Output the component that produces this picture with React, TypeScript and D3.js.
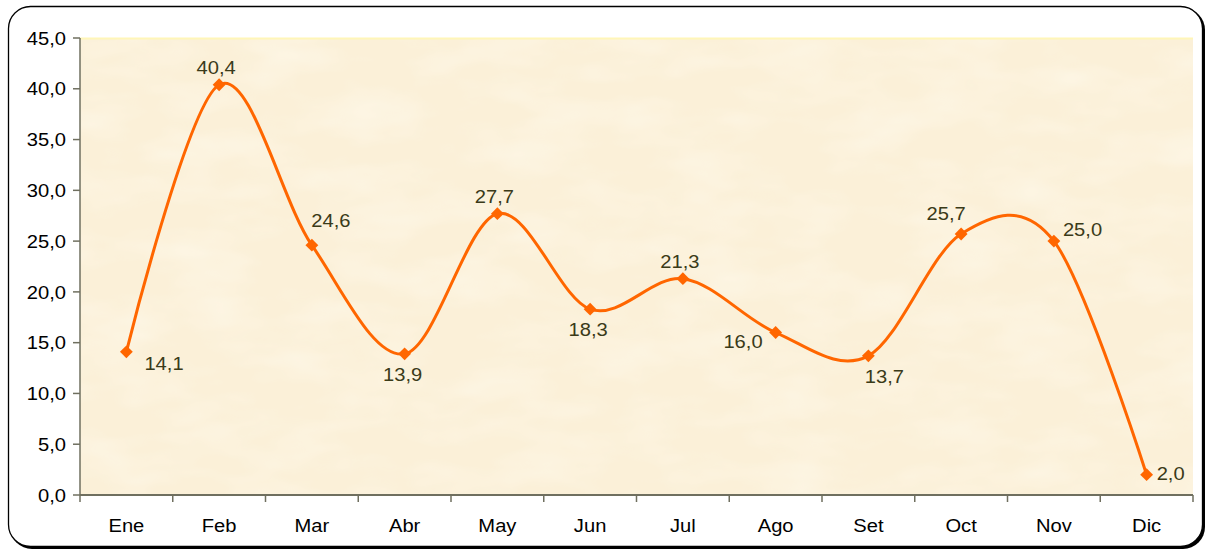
import { useEffect, useRef } from 'react';
import * as d3 from 'd3';

const months = ['Ene', 'Feb', 'Mar', 'Abr', 'May', 'Jun', 'Jul', 'Ago', 'Set', 'Oct', 'Nov', 'Dic'];
const values = [14.1, 40.4, 24.6, 13.9, 27.7, 18.3, 21.3, 16.0, 13.7, 25.7, 25.0, 2.0];
// where Excel put each data label relative to its marker
const labelSide = ['rightBelow', 'above', 'aboveRight', 'below', 'above', 'below', 'above', 'left', 'belowRight', 'aboveLeft', 'rightAbove', 'right'];
const yTicks = [0, 5, 10, 15, 20, 25, 30, 35, 40, 45];

const fmt = (v: number) => v.toFixed(1).replace('.', ',');

export default function App() {
    const svgRef = useRef<SVGSVGElement>(null);

    useEffect(() => {
        if (!svgRef.current) return;
        const width = 1207;
        const height = 552;
        const m = { top: 38, right: 14, bottom: 57, left: 80 };
        const font = 'Liberation Sans, Arial, sans-serif';
        const fs = 18.5;
        // the source picture is a little stretched sideways
        const stretch = (px: number, py: number) => `translate(${px},${py}) scale(1.09,1)`;

        const svg = d3.select(svgRef.current);
        svg.selectAll('*').remove();
        svg.attr('width', width).attr('height', height);

        // paper texture for the plot area
        const defs = svg.append('defs');
        const filt = defs.append('filter').attr('id', 'paper')
            .attr('x', 0).attr('y', 0).attr('width', 1).attr('height', 1);
        filt.append('feTurbulence')
            .attr('type', 'fractalNoise')
            .attr('baseFrequency', '0.012 0.03')
            .attr('numOctaves', 3)
            .attr('seed', 4)
            .attr('result', 'noise');
        filt.append('feColorMatrix')
            .attr('in', 'noise')
            .attr('type', 'matrix')
            .attr('values', '0 0 0 0 1  0 0 0 0 0.97  0 0 0 0 0.88  0.9 0 0 0 -0.35')
            .attr('result', 'tint');
        filt.append('feComposite').attr('in', 'tint').attr('in2', 'SourceGraphic').attr('operator', 'in');

        // frame with a small shadow on the right/bottom
        svg.append('rect')
            .attr('x', 10).attr('y', 8)
            .attr('width', 1195).attr('height', 541)
            .attr('rx', 22)
            .attr('fill', '#000');
        svg.append('rect')
            .attr('x', 8.5).attr('y', 6.5)
            .attr('width', 1194).attr('height', 540)
            .attr('rx', 22)
            .attr('fill', '#fff')
            .attr('stroke', '#000')
            .attr('stroke-width', 1.3);

        const x = d3.scaleBand()
            .domain(months)
            .range([m.left, width - m.right]);

        const y = d3.scaleLinear()
            .domain([0, 45])
            .range([height - m.bottom, m.top]);

        // plot background
        const pw = width - m.right - m.left;
        const ph = y(0) - m.top;
        svg.append('rect')
            .attr('x', m.left).attr('y', m.top)
            .attr('width', pw).attr('height', ph)
            .attr('fill', '#fbf0d8');
        svg.append('rect')
            .attr('x', m.left).attr('y', m.top)
            .attr('width', pw).attr('height', ph)
            .attr('fill', '#fff')
            .attr('filter', 'url(#paper)');
        svg.append('line')
            .attr('x1', m.left).attr('x2', width - m.right)
            .attr('y1', m.top + 0.5).attr('y2', m.top + 0.5)
            .attr('stroke', '#fff6b8')
            .attr('stroke-width', 2);

        const axisColor = '#6f6f5f';

        // y axis
        svg.append('line')
            .attr('x1', m.left).attr('x2', m.left)
            .attr('y1', m.top).attr('y2', y(0))
            .attr('stroke', axisColor).attr('stroke-width', 1.5);
        svg.selectAll('.ytick')
            .data(yTicks)
            .enter()
            .append('line')
            .attr('x1', m.left - 7).attr('x2', m.left)
            .attr('y1', d => y(d)).attr('y2', d => y(d))
            .attr('stroke', axisColor).attr('stroke-width', 1.5);
        svg.selectAll('.ylabel')
            .data(yTicks)
            .enter()
            .append('text')
            .attr('transform', d => stretch(m.left - 14, y(d)))
            .attr('dy', '0.36em')
            .attr('text-anchor', 'end')
            .attr('font-family', font)
            .attr('font-size', fs)
            .attr('fill', '#000')
            .text(d => fmt(d));

        // x axis
        svg.append('line')
            .attr('x1', m.left).attr('x2', width - m.right)
            .attr('y1', y(0)).attr('y2', y(0))
            .attr('stroke', axisColor).attr('stroke-width', 2);
        const bounds = months.map(d => x(d) || 0).concat([width - m.right]);
        svg.selectAll('.xtick')
            .data(bounds)
            .enter()
            .append('line')
            .attr('x1', d => d).attr('x2', d => d)
            .attr('y1', y(0)).attr('y2', y(0) + 7)
            .attr('stroke', axisColor).attr('stroke-width', 1.5);
        svg.selectAll('.xlabel')
            .data(months)
            .enter()
            .append('text')
            .attr('transform', d => stretch((x(d) || 0) + x.bandwidth() / 2, y(0) + 37))
            .attr('text-anchor', 'middle')
            .attr('font-family', font)
            .attr('font-size', fs)
            .attr('fill', '#000')
            .text(d => d);

        const pts = months.map((d, i) => ({
            m: d,
            v: values[i],
            side: labelSide[i],
            px: (x(d) || 0) + x.bandwidth() / 2,
            py: y(values[i]),
        }));

        // smoothed line
        const line = d3.line<typeof pts[0]>()
            .x(d => d.px)
            .y(d => d.py)
            .curve(d3.curveCardinal.tension(0));
        svg.append('path')
            .datum(pts)
            .attr('d', line)
            .attr('fill', 'none')
            .attr('stroke', '#ff6600')
            .attr('stroke-width', 3);

        // diamond markers
        svg.selectAll('.marker')
            .data(pts)
            .enter()
            .append('path')
            .attr('d', d3.symbol().type(d3.symbolDiamond2).size(105)())
            .attr('transform', d => `translate(${d.px},${d.py})`)
            .attr('fill', '#ff6600');

        // data labels
        const offsets: Record<string, [number, number, string]> = {
            above: [-3, -11, 'middle'],
            below: [-2, 27, 'middle'],
            aboveRight: [19, -18, 'middle'],
            aboveLeft: [-15, -14, 'middle'],
            belowRight: [16, 27, 'middle'],
            rightBelow: [18, 18, 'start'],
            rightAbove: [9, -5, 'start'],
            right: [10, 5, 'start'],
            left: [-13, 15, 'end'],
        };
        svg.selectAll('.value')
            .data(pts)
            .enter()
            .append('text')
            .attr('transform', d => stretch(d.px + offsets[d.side][0], d.py + offsets[d.side][1]))
            .attr('text-anchor', d => offsets[d.side][2])
            .attr('font-family', font)
            .attr('font-size', fs)
            .attr('fill', '#3a3a18')
            .text(d => fmt(d.v));
    }, []);

    return (
        <svg ref={svgRef} style={{ position: 'absolute', left: 0, top: 0, display: 'block' }} />
    );
}
